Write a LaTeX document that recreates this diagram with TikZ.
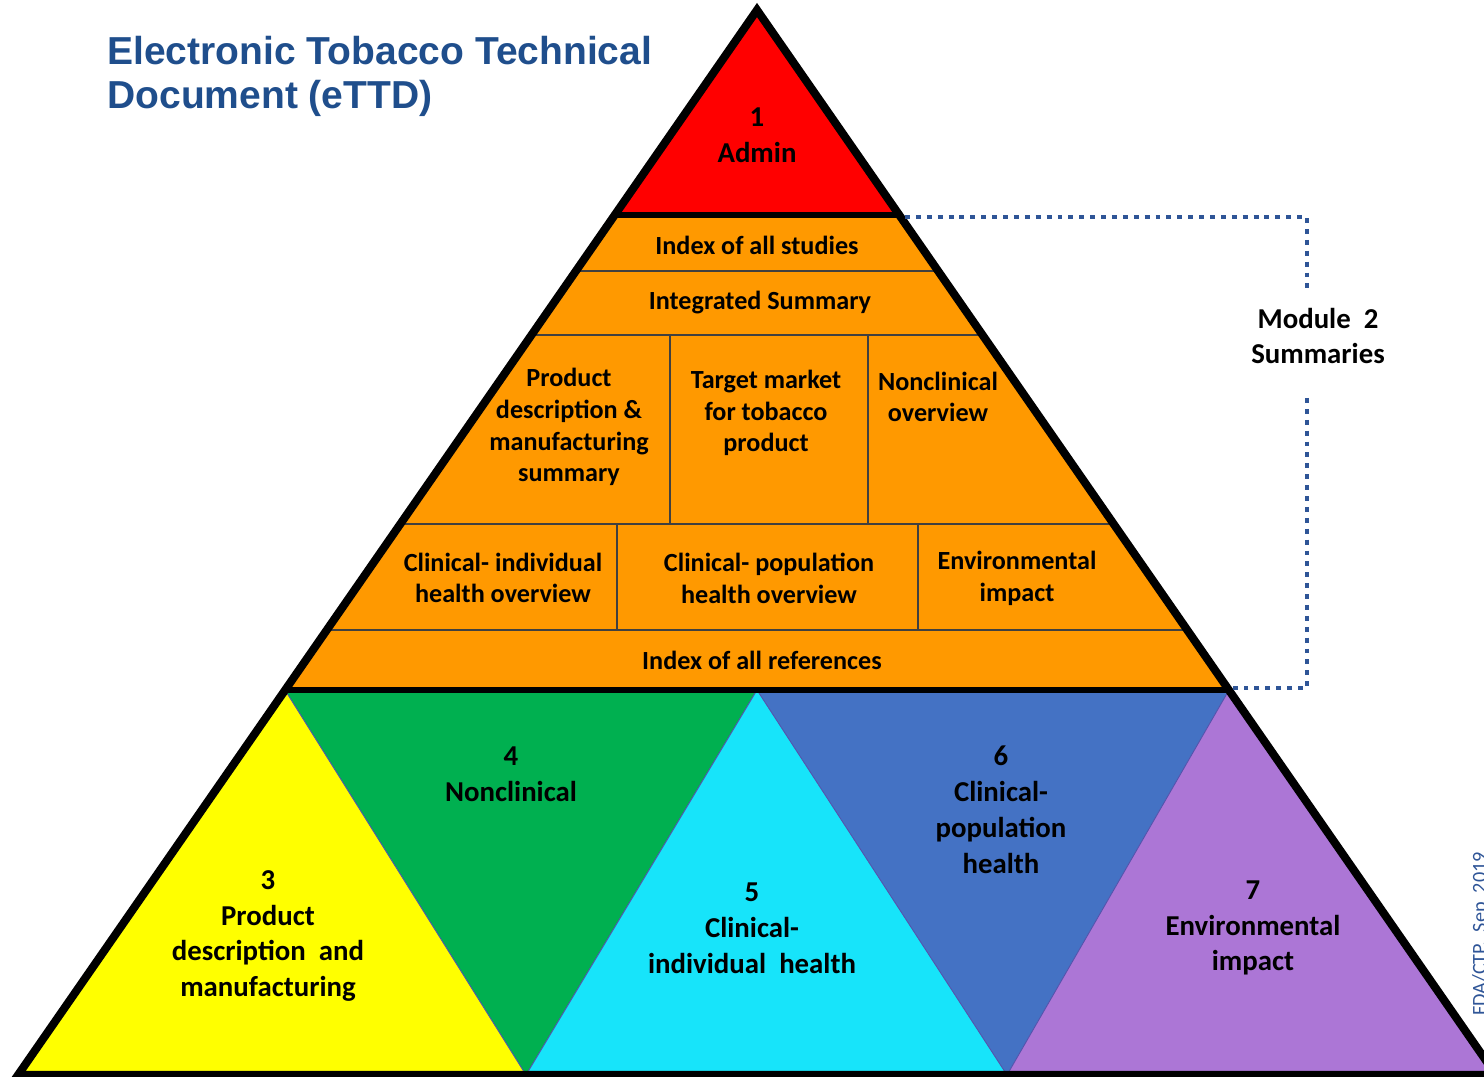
\documentclass[tikz,border=0pt]{standalone}
\usepackage{fontspec}
\setmainfont{Carlito}
\newfontfamily\headfont{Liberation Sans}
\usetikzlibrary{calc}
\definecolor{admin}{RGB}{255,0,0}
\definecolor{summ}{RGB}{255,153,0}
\definecolor{prod}{RGB}{255,255,0}
\definecolor{nonclin}{RGB}{0,176,80}
\definecolor{indiv}{RGB}{23,228,250}
\definecolor{popul}{RGB}{68,114,196}
\definecolor{envir}{RGB}{172,118,214}
\definecolor{ettdblue}{RGB}{31,78,140}
\definecolor{brk}{RGB}{47,85,151}

\begin{document}
\begin{tikzpicture}[x=0.02cm,y=-0.02cm,
  sect/.style={font=\fontsize{14.9}{18.1}\selectfont\bfseries,align=center,inner sep=0pt},
  modl/.style={font=\fontsize{16.4}{20.4}\selectfont\bfseries,align=center,inner sep=0pt},
  divider/.style={line width=1pt,black!75},
  seam/.style={line width=0.5pt,blue!35!gray},
  bracket/.style={brk,line width=2.8pt,dash pattern=on 2.8pt off 3.4pt}
]
\clip (0,0) rectangle (1484,1077);

% corners of the pyramid and its bands
\coordinate (apex) at (757,10);
\coordinate (lft)  at (18,1075);
\coordinate (rgt)  at (1496,1075);
\coordinate (a1) at (615,215);
\coordinate (a2) at (899,215);
\coordinate (b1) at (285,690);
\coordinate (b2) at (757,690);
\coordinate (b3) at (1229,690);
\coordinate (m1) at (526,1075);
\coordinate (m2) at (1007,1075);

% module 1 and the summaries band
\fill[admin] (apex) -- (a1) -- (a2) -- cycle;
\fill[summ] (a1) -- (a2) -- (b3) -- (b1) -- cycle;

% modules 3-7
\fill[prod]    (b1) -- (lft) -- (m1) -- cycle;
\fill[nonclin] (b1) -- (b2) -- (m1) -- cycle;
\fill[indiv]   (b2) -- (m1) -- (m2) -- cycle;
\fill[popul]   (b2) -- (b3) -- (m2) -- cycle;
\fill[envir]   (b3) -- (m2) -- (rgt) -- cycle;
\draw[seam] (b1) -- (m1) -- (b2) -- (m2) -- (b3);

% rows inside module 2
\begin{scope}
  \clip (apex) -- (lft) -- (rgt) -- cycle;
  \foreach \yy in {271,335,524,630}
    \draw[divider] (0,\yy) -- (1484,\yy);
\end{scope}
\draw[divider] (670,335) -- (670,524);
\draw[divider] (868,335) -- (868,524);
\draw[divider] (617,524) -- (617,630);
\draw[divider] (918,524) -- (918,630);

\draw[line width=3.4pt] (a1) -- (a2);
\draw[line width=3.4pt] (b1) -- (b3);
\draw[line width=4.6pt,line join=miter] (apex) -- (lft) -- (rgt) -- cycle;

\node[modl] (admin) at (757,135) {1\\Admin};
\node[sect] (studies) at (757,245) {Index of all studies};
\node[sect] (integ) at (760,303) {Integrated Summary};
\node[sect] (pdsum) at (569,427) {Product\\description \&\\manufacturing\\summary};
\node[sect] (target) at (766,413) {Target market\\for tobacco\\product};
\node[sect] (ncover) at (938,397) {Nonclinical\\overview};
\node[sect] (ciover) at (503,578) {Clinical- individual\\health overview};
\node[sect] (cpover) at (769,578) {Clinical- population\\health overview};
\node[sect] (envover) at (1017,578) {Environmental\\impact};
\node[sect] (refs) at (762,660) {Index of all references};

\node[modl] (mthree) at (268,936) {3\\Product\\description\ \ and\\manufacturing};
\node[modl] (mfour) at (511,774) {4\\Nonclinical};
\node[modl] (mfive) at (752,928) {5\\Clinical-\\individual\ \ health};
\node[modl] (msix) at (1001,810) {6\\Clinical-\\population\\health};
\node[modl] (mseven) at (1253,928) {7\\Environmental\\impact};

% dotted bracket round module 2
\node[modl] (mod) at (1318,336) {Module\ \ 2\\Summaries};
\coordinate (brA) at (905,217);
\coordinate (brB) at (1307,290);
\coordinate (brC) at (1307,398);
\coordinate (brD) at (1232,688);
\draw[bracket] (brA) -| (brB);
\draw[bracket] (brC) |- (brD);

\node[anchor=north west,inner sep=0pt,align=left,text=ettdblue,
      font=\headfont\bfseries\fontsize{22.2}{25.2}\selectfont] (title) at (107,36)
  {Electronic Tobacco Technical\\Document (eTTD)};
\node[rotate=90,anchor=base,text=brk,font=\fontsize{11.5}{14}\selectfont] (stamp) at (1486,934) {FDA/CTP,\ \ Sep\ \ 2019};
\end{tikzpicture}
\end{document}
